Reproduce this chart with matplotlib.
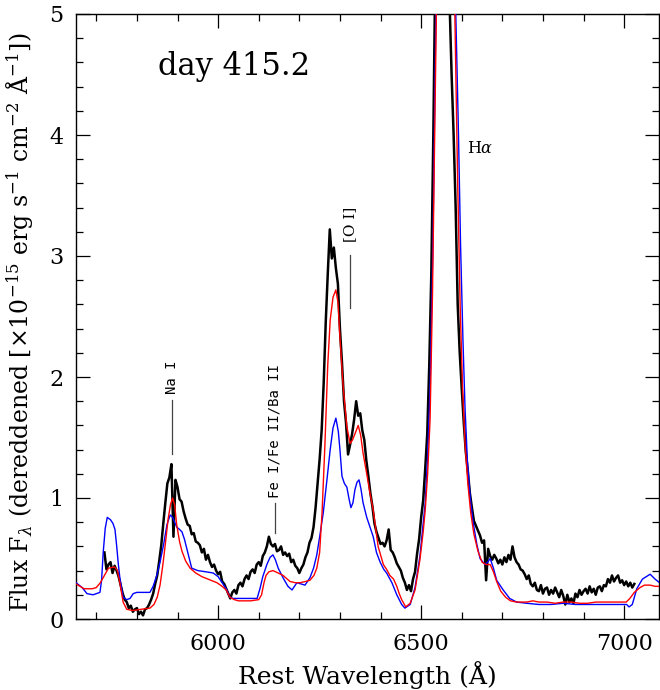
import numpy as np
import matplotlib
matplotlib.use("Agg")
import matplotlib.pyplot as plt
from matplotlib.ticker import MultipleLocator

plt.rcParams['font.family'] = 'DejaVu Serif'
plt.rcParams['mathtext.fontset'] = 'dejavuserif'

# observed spectrum, 5 A steps from 5720 to 7025 A
obs_wave = np.arange(5720, 7026, 5)
obs_flux = [
    0.55, 0.41, 0.45, 0.47, 0.38, 0.44, 0.40, 0.35, 0.28, 0.21,   # 5720-5765
    0.16, 0.14, 0.09, 0.11, 0.06, 0.08, 0.09, 0.04, 0.06, 0.03,   # 5770-5815
    0.08, 0.09, 0.12, 0.16, 0.21, 0.29, 0.36, 0.48, 0.61, 0.79,   # 5820-5865
    0.96, 1.12, 1.17, 1.28, 0.68, 1.15, 1.09, 0.99, 0.97, 0.89,   # 5870-5915
    0.83, 0.78, 0.77, 0.70, 0.71, 0.64, 0.63, 0.61, 0.55, 0.58,   # 5920-5965
    0.49, 0.53, 0.47, 0.43, 0.45, 0.40, 0.37, 0.39, 0.31, 0.29,   # 5970-6015
    0.25, 0.21, 0.17, 0.22, 0.24, 0.21, 0.28, 0.30, 0.27, 0.33,   # 6020-6065
    0.36, 0.33, 0.39, 0.41, 0.38, 0.45, 0.47, 0.44, 0.52, 0.55,   # 6070-6115
    0.60, 0.68, 0.62, 0.60, 0.62, 0.56, 0.57, 0.60, 0.53, 0.55,   # 6120-6165
    0.52, 0.54, 0.47, 0.49, 0.44, 0.42, 0.38, 0.42, 0.45, 0.51,   # 6170-6215
    0.55, 0.63, 0.67, 0.76, 0.92, 1.12, 1.32, 1.56, 1.95, 2.45,   # 6220-6265
    2.85, 3.22, 2.98, 3.07, 2.90, 2.77, 2.40, 2.12, 1.80, 1.62,   # 6270-6315
    1.36, 1.44, 1.53, 1.65, 1.80, 1.68, 1.70, 1.56, 1.48, 1.31,   # 6320-6365
    1.18, 1.04, 0.93, 0.79, 0.72, 0.67, 0.62, 0.63, 0.60, 0.65,   # 6370-6415
    0.74, 0.57, 0.55, 0.51, 0.46, 0.43, 0.40, 0.34, 0.30, 0.24,   # 6420-6465
    0.28, 0.23, 0.33, 0.39, 0.54, 0.66, 0.84, 0.98, 1.24, 1.53,   # 6470-6515
    2.10, 2.85, 4.00, 5.40, 6.80, 7.80, 8.20, 8.00, 7.30, 6.20,   # 6520-6565
    5.10, 4.50, 4.00, 3.40, 2.60, 2.20, 1.90, 1.62, 1.38, 1.22,   # 6570-6615
    1.04, 0.92, 0.81, 0.77, 0.73, 0.69, 0.63, 0.65, 0.32, 0.58,   # 6620-6665
    0.52, 0.49, 0.53, 0.50, 0.46, 0.49, 0.45, 0.51, 0.47, 0.53,   # 6670-6715
    0.49, 0.60, 0.51, 0.47, 0.45, 0.41, 0.40, 0.37, 0.33, 0.36,   # 6720-6765
    0.29, 0.27, 0.30, 0.24, 0.23, 0.28, 0.21, 0.25, 0.26, 0.20,   # 6770-6815
    0.24, 0.21, 0.26, 0.22, 0.18, 0.24, 0.19, 0.12, 0.20, 0.14,   # 6820-6865
    0.17, 0.13, 0.21, 0.18, 0.24, 0.20, 0.23, 0.25, 0.21, 0.27,   # 6870-6915
    0.22, 0.25, 0.20, 0.26, 0.27, 0.23, 0.28, 0.27, 0.33, 0.30,   # 6920-6965
    0.36, 0.31, 0.34, 0.36, 0.30, 0.32, 0.28, 0.31, 0.27, 0.30,   # 6970-7015
    0.26, 0.29,                                                   # 7020-7025
]

# model spectrum 1 (red)
red_wave = [5650, 5660, 5670, 5680, 5690, 5700, 5710, 5720, 5730, 5745,
            5752, 5758, 5766, 5775, 5790, 5810, 5832, 5842, 5850, 5857,
            5864, 5870, 5877, 5883, 5888, 5893, 5898, 5905, 5911, 5920,
            5931, 5945, 5960, 5975, 5997, 6010, 6020, 6029, 6040, 6050,
            6060, 6080, 6100, 6107, 6113, 6118, 6125, 6135, 6148, 6160,
            6177, 6190, 6202, 6215, 6226, 6236, 6243, 6250, 6256, 6263,
            6270, 6276, 6283, 6290, 6295, 6300, 6308, 6317, 6325, 6331,
            6337, 6345, 6351, 6357, 6366, 6374, 6382, 6394, 6407, 6415,
            6423, 6432, 6440, 6446, 6452, 6462, 6473, 6485, 6497, 6505,
            6510, 6516, 6522, 6528, 6534, 6540, 6550, 6560, 6570, 6578,
            6583, 6590, 6596, 6602, 6608, 6615, 6622, 6630, 6640, 6650,
            6660, 6670, 6678, 6686, 6696, 6708, 6720, 6735, 6760, 6775,
            6790, 6810, 6830, 6850, 6870, 6890, 6910, 6930, 6950, 6970,
            6990, 7005, 7014, 7025, 7039, 7050, 7064, 7076, 7087]
red_flux = [0.29, 0.27, 0.25, 0.25, 0.25, 0.26, 0.30, 0.36, 0.42, 0.43,
            0.40, 0.30, 0.14, 0.08, 0.07, 0.08, 0.09, 0.12, 0.18, 0.28,
            0.45, 0.62, 0.83, 0.95, 1.00, 0.94, 0.78, 0.64, 0.56, 0.48,
            0.42, 0.38, 0.35, 0.33, 0.30, 0.27, 0.24, 0.18, 0.16, 0.15,
            0.15, 0.15, 0.16, 0.20, 0.30, 0.36, 0.39, 0.40, 0.38, 0.36,
            0.31, 0.30, 0.30, 0.31, 0.32, 0.36, 0.42, 0.55, 0.88, 1.44,
            2.10, 2.47, 2.66, 2.72, 2.62, 2.33, 1.92, 1.59, 1.45, 1.48,
            1.53, 1.60, 1.52, 1.37, 1.20, 1.04, 0.90, 0.60, 0.45, 0.41,
            0.36, 0.33, 0.27, 0.21, 0.16, 0.10, 0.13, 0.24, 0.49, 0.72,
            0.90, 1.20, 1.65, 2.70, 4.20, 5.60, 7.50, 8.20, 7.40, 5.80,
            5.00, 3.60, 2.60, 1.90, 1.45, 1.12, 0.88, 0.70, 0.56, 0.47,
            0.45, 0.45, 0.39, 0.31, 0.23, 0.18, 0.15, 0.14, 0.14, 0.15,
            0.14, 0.14, 0.13, 0.14, 0.14, 0.13, 0.13, 0.14, 0.14, 0.14,
            0.14, 0.14, 0.17, 0.22, 0.26, 0.28, 0.28, 0.27, 0.27]

# model spectrum 2 (blue)
blue_wave = [5650, 5665, 5677, 5692, 5709, 5713, 5717, 5722, 5727, 5735,
             5741, 5746, 5750, 5754, 5758, 5766, 5775, 5783, 5791, 5800,
             5820, 5832, 5840, 5848, 5857, 5866, 5874, 5882, 5888, 5893,
             5898, 5905, 5911, 5917, 5923, 5929, 5935, 5950, 5970, 5988,
             6000, 6010, 6020, 6029, 6037, 6060, 6080, 6096, 6103, 6110,
             6120, 6128, 6135, 6141, 6148, 6160, 6172, 6182, 6194, 6204,
             6214, 6226, 6235, 6243, 6251, 6259, 6268, 6276, 6283, 6290,
             6296, 6300, 6305, 6311, 6317, 6322, 6327, 6332, 6337, 6342,
             6347, 6352, 6357, 6366, 6372, 6382, 6390, 6399, 6408, 6415,
             6428, 6440, 6452, 6460, 6473, 6485, 6497, 6510, 6516, 6522,
             6529, 6537, 6548, 6560, 6572, 6581, 6586, 6592, 6597, 6603,
             6608, 6614, 6621, 6628, 6637, 6645, 6657, 6664, 6670, 6678,
             6686, 6702, 6718, 6735, 6760, 6790, 6820, 6850, 6880, 6910,
             6940, 6970, 6995, 7006, 7012, 7020, 7031, 7045, 7064, 7076,
             7087]
blue_flux = [0.30, 0.26, 0.21, 0.20, 0.22, 0.32, 0.55, 0.75, 0.84, 0.82,
             0.79, 0.74, 0.61, 0.46, 0.34, 0.18, 0.16, 0.17, 0.21, 0.22,
             0.22, 0.22, 0.27, 0.35, 0.47, 0.62, 0.78, 0.86, 0.84, 0.80,
             0.76, 0.74, 0.72, 0.66, 0.58, 0.50, 0.42, 0.40, 0.39, 0.38,
             0.35, 0.30, 0.25, 0.18, 0.17, 0.17, 0.17, 0.17, 0.25, 0.35,
             0.45, 0.51, 0.53, 0.49, 0.42, 0.34, 0.27, 0.24, 0.30, 0.29,
             0.28, 0.34, 0.42, 0.53, 0.70, 0.88, 1.15, 1.40, 1.58, 1.66,
             1.55, 1.40, 1.18, 1.12, 1.09, 1.00, 0.92, 0.96, 1.07, 1.13,
             1.15, 1.07, 0.96, 0.84, 0.78, 0.68, 0.55, 0.47, 0.41, 0.38,
             0.30, 0.20, 0.12, 0.09, 0.12, 0.26, 0.52, 0.96, 1.35, 1.92,
             3.10, 5.20, 7.60, 8.40, 7.60, 5.60, 4.90, 4.00, 3.10, 2.30,
             1.75, 1.30, 1.00, 0.80, 0.62, 0.50, 0.45, 0.47, 0.50, 0.42,
             0.32, 0.24, 0.17, 0.14, 0.13, 0.12, 0.12, 0.13, 0.12, 0.12,
             0.12, 0.12, 0.12, 0.12, 0.10, 0.12, 0.25, 0.33, 0.37, 0.33,
             0.30]

# line identifications: (label, wavelength, label centre, marker bottom, marker top)
id_labels = ['Na I', 'Fe I/Fe II/Ba II', '[O I]']
id_wave = [5887, 6140, 6325]
id_text_y = [2.00, 1.55, 3.26]
id_tick_lo = [1.36, 0.71, 2.57]
id_tick_hi = [1.81, 0.96, 3.01]

fig = plt.figure(figsize=(6.6, 6.9), dpi=100)
ax = fig.add_axes([76 / 660, 71 / 690, 583.5 / 660, 605 / 690])

ax.plot(obs_wave, obs_flux, color='black', lw=1.8, zorder=2)
ax.plot(blue_wave, blue_flux, color='#0000ff', lw=1.0, zorder=3)
ax.plot(red_wave, red_flux, color='#ff0000', lw=1.0, zorder=4)

ax.set_xlim(5650, 7087)
ax.set_ylim(0, 5)

ax.xaxis.set_major_locator(MultipleLocator(500))
ax.xaxis.set_minor_locator(MultipleLocator(100))
ax.yaxis.set_major_locator(MultipleLocator(1))
ax.yaxis.set_minor_locator(MultipleLocator(0.2))
ax.tick_params(which='both', direction='in', top=True, right=True, width=0.9)
ax.tick_params(which='major', length=10)
ax.tick_params(which='minor', length=5)
ax.tick_params(axis='x', which='major', pad=10, labelsize=16)
ax.tick_params(axis='y', which='major', pad=9, labelsize=16)
for sp in ax.spines.values():
    sp.set_linewidth(1.0)

ax.set_xlabel('Rest Wavelength (Å)', fontsize=18)
ax.xaxis.set_label_coords(0.5, -0.070)
ax.set_ylabel('Flux F$_\\lambda$ (dereddened [$\\times$10$^{-15}$ erg s$^{-1}$ '
              'cm$^{-2}$ Å$^{-1}$])', fontsize=17)
ax.yaxis.set_label_coords(-0.068, 0.49)

ax.text(5852, 4.57, 'day 415.2', fontsize=22, va='center', ha='left')

for lab, w, ty, lo, hi in zip(id_labels, id_wave, id_text_y, id_tick_lo, id_tick_hi):
    if lab == '[O I]':
        ax.text(w, ty, lab, rotation=90, ha='center', va='center', fontsize=11)
    else:
        ax.text(w, ty, lab, rotation=90, ha='center', va='center',
                fontsize=10, family='DejaVu Sans Mono')
    ax.plot([w, w], [lo, hi], color='#444444', lw=0.9)

ax.text(6613, 3.89, 'H$\\alpha$', fontsize=11.5, ha='left', va='center')

fig.savefig('out.png', dpi=100)
